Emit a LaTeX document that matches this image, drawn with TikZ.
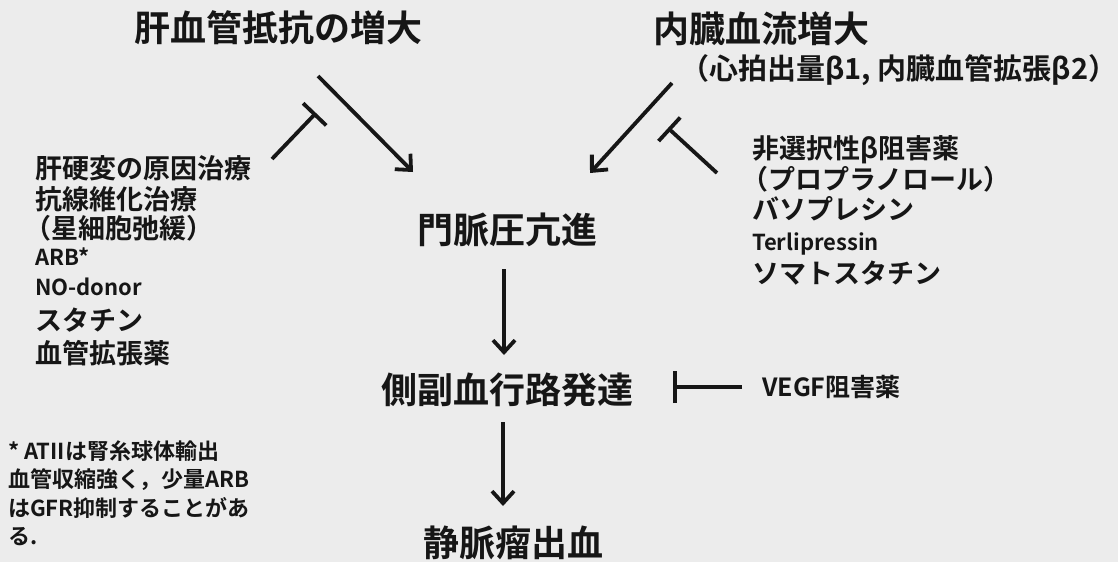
\documentclass[tikz,border=0pt]{standalone}
\usepackage{fontspec}
\setmainfont{Noto Sans CJK JP}[BoldFont={Noto Sans CJK JP Bold}]
\usetikzlibrary{arrows.meta}
\definecolor{bg}{RGB}{236,236,236}
\definecolor{ink}{RGB}{22,22,22}
\begin{document}
\begin{tikzpicture}[x=1pt,y=-1pt,
  big/.style={font=\bfseries\fontsize{36}{40}\selectfont, text=ink, inner sep=0pt},
  mid/.style={font=\bfseries\fontsize{27}{30}\selectfont, text=ink, inner sep=0pt, anchor=west},
  latin/.style={mid, font=\bfseries\fontsize{22}{26}\selectfont},
  small/.style={font=\bfseries\fontsize{22}{24}\selectfont, text=ink, inner sep=0pt, anchor=west},
  promote/.style={draw=ink, line width=3.8pt, -{Straight Barb[length=12pt,width=22pt]}},
  inhibit/.style={draw=ink, line width=3.8pt, -{Bar[width=32pt]}}]
\fill[bg] (0,0) rectangle (1118,562);
\useasboundingbox (0,0) rectangle (1118,562);
% titles
\node[big] (hvr) at (278,28) {肝血管抵抗の増大};
\node[big] (sbf) at (761,29) {内臓血流増大};
\node[mid, font=\bfseries\fontsize{29}{32}\selectfont] (sub) at (680,70) {（心拍出量β1, 内臓血管拡張β2）};
\node[big] (ph) at (507,230) {門脈圧亢進};
\node[big] (col) at (507,390) {側副血行路発達};
\node[big] (bleed) at (513,543) {静脈瘤出血};
% left list
\node[mid] (l1) at (35,168) {肝硬変の原因治療};
\node[mid] (l2) at (35,199) {抗線維化治療};
\node[mid] (l3) at (24,228) {（星細胞弛緩）};
\node[latin] (l4) at (35,257) {ARB*};
\node[latin] (l5) at (35,287) {NO-donor};
\node[mid] (l6) at (35,320) {スタチン};
\node[mid] (l7) at (35,353) {血管拡張薬};
% footnote
\node[small] (f1) at (8,451) {* ATIIは腎糸球体輸出};
\node[small] (f2) at (8,480) {血管収縮強く，少量ARB};
\node[small] (f3) at (8,508) {はGFR抑制することがあ};
\node[small] (f4) at (8,537) {る.};
% right list
\node[mid] (r1) at (752,150) {非選択性β阻害薬};
\node[mid] (r2) at (741,179) {（プロプラノロール）};
\node[mid] (r3) at (752,209) {バソプレシン};
\node[latin] (r4) at (752,244) {Terlipressin};
\node[mid] (r5) at (752,273) {ソマトスタチン};
\node[mid, font=\bfseries\fontsize{25}{28}\selectfont] (vegf) at (762,387) {VEGF阻害薬};
% connector end points
\coordinate (a1s) at (318,76);   \coordinate (a1e) at (413,172);
\coordinate (i1s) at (272,159);  \coordinate (i1e) at (316,113);
\coordinate (a2s) at (672,83);   \coordinate (a2e) at (590,173);
\coordinate (i2s) at (717,173);  \coordinate (i2e) at (668,128);
\coordinate (a3s) at (504,269);  \coordinate (a3e) at (504,355);
\coordinate (a4s) at (503,422);  \coordinate (a4e) at (503,506);
\coordinate (i3s) at (742,387);  \coordinate (i3e) at (673,387);
% connectors
\draw[promote] (a1s) -- (a1e);
\draw[inhibit] (i1s) -- (i1e);
\draw[promote] (a2s) -- (a2e);
\draw[inhibit] (i2s) -- (i2e);
\draw[promote] (a3s) -- (a3e);
\draw[promote] (a4s) -- (a4e);
\draw[inhibit] (i3s) -- (i3e);
\end{tikzpicture}
\end{document}
